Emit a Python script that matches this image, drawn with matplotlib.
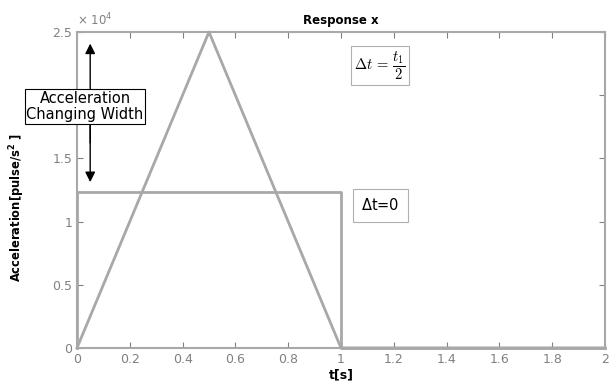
import matplotlib
matplotlib.use("Agg")
import matplotlib.pyplot as plt
import numpy as np

# data (acceleration in units of 1e4 pulse/s^2)
t_tri = [0.0, 0.5, 1.0, 2.0]
a_tri = [0.0, 2.5, 0.0, 0.0]
t_rect = [0.0, 0.0, 1.0, 1.0, 2.0]
a_rect = [0.0, 1.23, 1.23, 0.0, 0.0]

xticks = [0, 0.2, 0.4, 0.6, 0.8, 1, 1.2, 1.4, 1.6, 1.8, 2]
xticklabels = ["0", "0.2", "0.4", "0.6", "0.8", "1", "1.2", "1.4", "1.6", "1.8", "2"]
yticks = [0, 0.5, 1, 1.5, 2, 2.5]
yticklabels = ["0", "0.5", "1", "1.5", "2", "2.5"]

grey = "#a8a8a8"
tickgrey = "#808080"

fig = plt.figure(figsize=(6.16, 3.90), dpi=100)
ax = fig.add_axes([0.125, 0.108, 0.857, 0.810])

ax.plot(t_rect, a_rect, color=grey, lw=2.0, clip_on=False)
ax.plot(t_tri, a_tri, color=grey, lw=2.0, clip_on=False)

ax.set_xlim(0, 2)
ax.set_ylim(0, 2.5)
ax.set_xticks(xticks)
ax.set_xticklabels(xticklabels)
ax.set_yticks(yticks)
ax.set_yticklabels(yticklabels)
ax.tick_params(direction="in", top=True, right=True, length=4, color=tickgrey,
               labelcolor=tickgrey, labelsize=9)
for s in ax.spines.values():
    s.set_color(grey)
    s.set_linewidth(1.5)

ax.set_title("Response x", fontsize=8.5, fontweight="bold", pad=6)
ax.set_xlabel("t[s]", fontsize=9, fontweight="bold", labelpad=2)
ax.set_ylabel("Acceleration[pulse/s$^\\mathbf{2}$ ]", fontsize=8.3, fontweight="bold")
ax.yaxis.set_label_coords(-0.094, 0.445)
ax.text(0, 1.012, "$\\times$ 10$^4$", transform=ax.transAxes, fontsize=8.5,
        color=tickgrey, va="bottom", ha="left")

# double arrow showing acceleration changing width
ax.annotate("", xy=(0.05, 2.43), xytext=(0.05, 1.6),
            arrowprops=dict(arrowstyle="-|>", color="black", lw=1, mutation_scale=15))
ax.annotate("", xy=(0.05, 1.29), xytext=(0.05, 1.95),
            arrowprops=dict(arrowstyle="-|>", color="black", lw=1, mutation_scale=15))
fig.text(85 / 616, 1 - 106.5 / 390, "Acceleration\nChanging Width", ha="center", va="center",
         fontsize=10.5, linespacing=1.05, zorder=5,
         bbox=dict(boxstyle="square,pad=0.12", fc="white", ec="black", lw=0.8))

fig.text(380 / 616, 1 - 65.5 / 390, "$\\Delta t\\,=\\,\\dfrac{t_1}{2}$", ha="center", va="center",
         fontsize=10.5, math_fontfamily="cm",
         bbox=dict(boxstyle="square,pad=0.25", fc="white", ec="#b0b0b0", lw=0.8))
fig.text(380.5 / 616, 1 - 205.5 / 390, "$\\Delta$t=0", ha="center", va="center",
         fontsize=10.5,
         bbox=dict(boxstyle="square,pad=0.55", fc="white", ec="#b0b0b0", lw=0.8))

plt.savefig("out.png", dpi=100)
plt.close()
